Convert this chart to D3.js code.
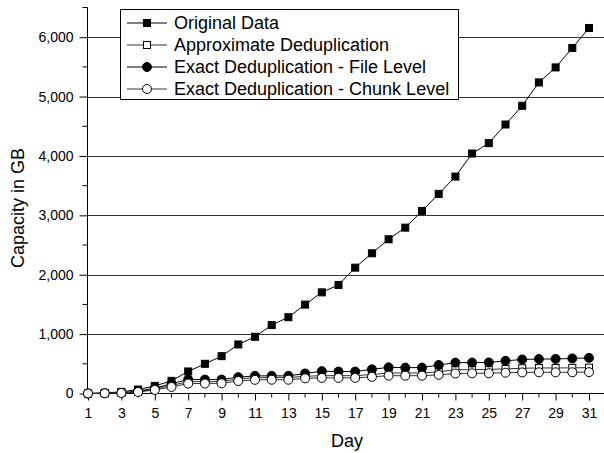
<!DOCTYPE html>
<html><head><meta charset="utf-8">
<script src="https://cdn.jsdelivr.net/npm/d3@7"></script>
<style>body{margin:0;background:#fff}svg{display:block}text{font-family:Arial,"Liberation Sans",sans-serif;fill:#000}</style>
</head><body><svg id="c" width="604" height="453"></svg>
<script>
const days = d3.range(1, 32);
const originalData = [0, 10, 27, 67, 128, 213, 371, 500, 629, 826, 955, 1152, 1285, 1497, 1703, 1828, 2119, 2361, 2597, 2793, 3074, 3361, 3653, 4041, 4216, 4530, 4845, 5238, 5491, 5818, 6155];
const approxDedup = [0, 4, 10, 30, 75, 135, 200, 200, 202, 245, 265, 268, 268, 290, 300, 300, 300, 320, 345, 345, 345, 365, 400, 400, 405, 415, 425, 430, 430, 432, 435];
const exactFile = [0, 5, 12, 40, 90, 165, 235, 235, 235, 275, 297, 297, 297, 337, 376, 370, 370, 407, 440, 436, 436, 480, 520, 520, 523, 550, 573, 580, 582, 590, 600];
const exactChunk = [0, 3, 8, 25, 60, 110, 168, 168, 172, 210, 230, 232, 232, 255, 263, 263, 263, 280, 300, 300, 300, 314, 337, 340, 342, 350, 355, 357, 357, 358, 360];
const seriesNames = ["Original Data", "Approximate Deduplication", "Exact Deduplication - File Level", "Exact Deduplication - Chunk Level"];
const yTicks = [0, 1000, 2000, 3000, 4000, 5000, 6000];
const xTicks = [1, 3, 5, 7, 9, 11, 13, 15, 17, 19, 21, 23, 25, 27, 29, 31];

const series = [
  {name: seriesNames[0], values: originalData, shape: "square", fill: "#000", line: "#000"},
  {name: seriesNames[1], values: approxDedup, shape: "square", fill: "#fff", line: "#333"},
  {name: seriesNames[2], values: exactFile, shape: "circle", fill: "#000", line: "#000"},
  {name: seriesNames[3], values: exactChunk, shape: "circle", fill: "#fff", line: "#333"}
];

const svg = d3.select("#c");
const pLeft = 87.5, pBottom = 393.5, pRight = 604, pTop = 7.5;
const x = d3.scaleLinear().domain([1, 31]).range([88, 589]);
const y = d3.scaleLinear().domain([0, 6500]).range([pBottom, pTop]);

// grid
svg.append("g").selectAll("line").data(yTicks.filter(d => d > 0)).join("line")
  .attr("x1", pLeft).attr("x2", pRight)
  .attr("y1", d => Math.round(y(d)) + 0.5).attr("y2", d => Math.round(y(d)) + 0.5)
  .attr("stroke", "#333").attr("stroke-width", 1);

// y axis
const yAxis = svg.append("g").attr("transform", `translate(${pLeft},0)`);
yAxis.call(d3.axisLeft(y).tickValues(yTicks).tickSize(8).tickPadding(6).tickFormat(d3.format(",")));
yAxis.append("g").selectAll("line").data(d3.range(500, 6501, 1000)).join("line")
  .attr("x1", -5).attr("x2", 0).attr("y1", d => y(d)).attr("y2", d => y(d)).attr("stroke", "#000");
yAxis.select(".domain").attr("d", `M0,${pTop}V${pBottom}`);
yAxis.selectAll("text").style("font-size", "14px").attr("font-family", "Arial");

// x axis
const xAxis = svg.append("g").attr("transform", `translate(0,${pBottom})`);
xAxis.call(d3.axisBottom(x).tickValues(xTicks).tickSize(7).tickPadding(8).tickFormat(d3.format("d")));
xAxis.append("g").selectAll("line").data(d3.range(2, 32, 2)).join("line")
  .attr("x1", d => x(d)).attr("x2", d => x(d)).attr("y1", 0).attr("y2", 4).attr("stroke", "#000");
xAxis.select(".domain").attr("d", `M${pLeft},0H${pRight}`);
xAxis.selectAll("text").style("font-size", "14px").attr("font-family", "Arial");

// titles
svg.append("text").attr("transform", "translate(24,208) rotate(-90)").attr("text-anchor", "middle")
  .style("font-size", "18px").text("Capacity in GB");
svg.append("text").attr("x", 347).attr("y", 447).attr("text-anchor", "middle")
  .style("font-size", "18px").text("Day");

function marker(sel, s) {
  if (s.shape === "square") {
    sel.append("rect").attr("x", -3.5).attr("y", -3.5).attr("width", 7).attr("height", 7)
      .attr("fill", s.fill).attr("stroke", "#000").attr("stroke-width", 1);
  } else {
    sel.append("circle").attr("r", 4.5).attr("fill", s.fill).attr("stroke", "#000").attr("stroke-width", 1);
  }
}

const line = d3.line().x((d, i) => x(days[i])).y(d => y(d));
series.forEach(s => {
  const g = svg.append("g");
  g.append("path").datum(s.values).attr("d", line).attr("fill", "none").attr("stroke", s.line).attr("stroke-width", 1);
  g.selectAll("g").data(s.values).join("g")
    .attr("transform", (d, i) => `translate(${x(days[i])},${y(d)})`)
    .each(function () { marker(d3.select(this), s); });
});

// legend
const lg = svg.append("g");
lg.append("rect").attr("x", 120.5).attr("y", 9.5).attr("width", 338).attr("height", 90)
  .attr("fill", "#fff").attr("stroke", "#000");
series.forEach((s, i) => {
  const yy = 23 + i * 22;
  const g = lg.append("g");
  g.append("line").attr("x1", 127).attr("x2", 167).attr("y1", yy).attr("y2", yy).attr("stroke", s.line);
  marker(g.append("g").attr("transform", `translate(147,${yy})`), s);
  g.append("text").attr("x", 174).attr("y", yy + 6).style("font-size", "18px").text(s.name);
});
</script></body></html>
